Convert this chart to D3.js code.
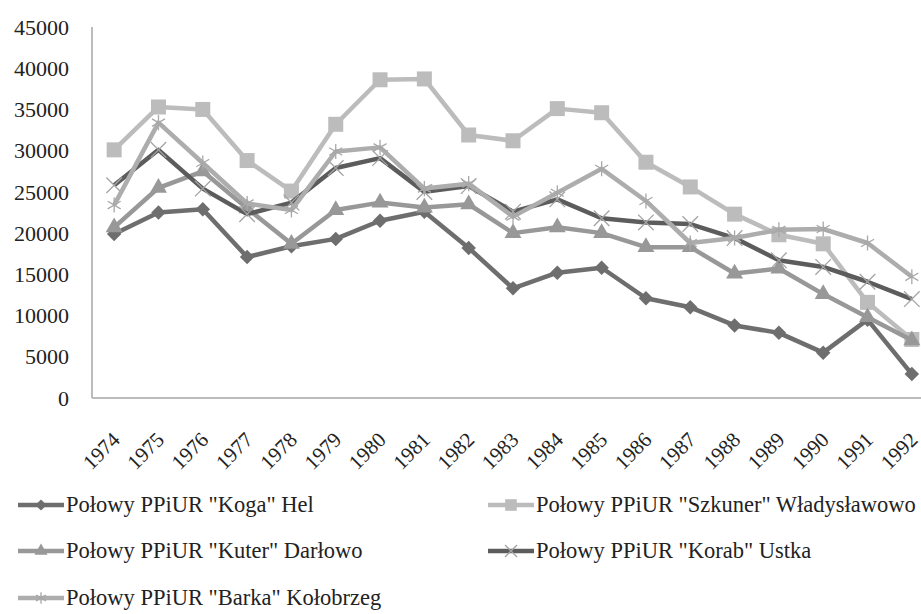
<!DOCTYPE html>
<html>
<head>
<meta charset="utf-8">
<script src="https://cdn.jsdelivr.net/npm/d3@7"></script>
<style>
  body { margin: 0; background: #fff; }
  svg { display: block; }
</style>
</head>
<body>
<div id="chart"></div>
<script>
// data (catch, yearly)
const years = ["1974","1975","1976","1977","1978","1979","1980","1981","1982","1983",
               "1984","1985","1986","1987","1988","1989","1990","1991","1992"];
const yTicks = [0, 5000, 10000, 15000, 20000, 25000, 30000, 35000, 40000, 45000];

const koga    = [19900, 22500, 22900, 17100, 18400, 19300, 21500, 22600, 18200, 13300, 15200, 15800, 12100, 11000, 8800, 7900, 5500, 9500, 2900];
const szkuner = [30100, 35300, 35000, 28800, 25100, 33200, 38600, 38700, 31900, 31200, 35100, 34600, 28600, 25600, 22300, 19800, 18700, 11600, 7100];
const kuter   = [20700, 25500, 27500, 23000, 18700, 22800, 23700, 23100, 23500, 20000, 20700, 20000, 18300, 18300, 15100, 15700, 12600, 9800, 7000];
const korab   = [25800, 30100, 25400, 22300, 23700, 27900, 29100, 25000, 25700, 22600, 24100, 21800, 21300, 21100, 19400, 16700, 15900, 14100, 12000];
const barka   = [23400, 33400, 28500, 23600, 22800, 29900, 30400, 25400, 26000, 22000, 24900, 27800, 23900, 18800, 19400, 20400, 20500, 18800, 14700];

const seriesNames = [
  'Połowy PPiUR "Koga" Hel',
  'Połowy PPiUR "Szkuner" Władysławowo',
  'Połowy PPiUR "Kuter" Darłowo',
  'Połowy PPiUR "Korab" Ustka',
  'Połowy PPiUR "Barka" Kołobrzeg'
];

const series = [
  { name: seriesNames[0], values: koga,    line: "#6e6e6e", mark: "#6e6e6e", sym: "diamond" },
  { name: seriesNames[1], values: szkuner, line: "#bcbcbc", mark: "#bcbcbc", sym: "square" },
  { name: seriesNames[2], values: kuter,   line: "#989898", mark: "#989898", sym: "triangle" },
  { name: seriesNames[3], values: korab,   line: "#5c5c5c", mark: "#a4a4a4", sym: "times" },
  { name: seriesNames[4], values: barka,   line: "#adadad", mark: "#a8a8a8", sym: "asterisk" }
];

const FONT = "'Liberation Serif', 'Times New Roman', Times, 'DejaVu Serif', serif";
const width = 921, height = 614;
const svg = d3.select("#chart").append("svg")
  .attr("width", width)
  .attr("height", height);

const x = d3.scalePoint().domain(years).range([92, 934]).padding(0.5);
const y = d3.scaleLinear().domain([0, 45000]).range([398, 27]);

// axes
svg.append("line")
  .attr("x1", x.range()[0]).attr("x2", width)
  .attr("y1", y(0)).attr("y2", y(0))
  .attr("stroke", "#a6a6a6").attr("stroke-width", 1.5);
svg.append("line")
  .attr("x1", 92).attr("x2", 92)
  .attr("y1", y(45000)).attr("y2", y(0))
  .attr("stroke", "#a6a6a6").attr("stroke-width", 1.5);

svg.selectAll(".ytick").data(yTicks).enter().append("text")
  .attr("class", "ytick")
  .attr("x", 69)
  .attr("y", d => y(d))
  .attr("dy", "0.35em")
  .attr("text-anchor", "end")
  .attr("font-family", FONT)
  .attr("font-size", 22)
  .attr("fill", "#222")
  .text(d => d);

svg.selectAll(".xtick").data(years).enter().append("text")
  .attr("class", "xtick")
  .attr("text-anchor", "end")
  .attr("transform", d => "translate(" + (x(d) + 7) + ",441) rotate(-45)")
  .attr("font-family", FONT)
  .attr("font-size", 21)
  .attr("fill", "#222")
  .text(d => d);

function symbolPath(kind, scale) {
  const s = scale || 1;
  if (kind === "diamond") return d3.symbol(d3.symbolSquare, 105 * s)();
  if (kind === "square") return d3.symbol(d3.symbolSquare, 225 * s)();
  if (kind === "triangle") return d3.symbol(d3.symbolTriangle, 125 * s)();
  if (kind === "times") return d3.symbol(d3.symbolTimes, 160 * s)();
  return d3.symbol(d3.symbolAsterisk, 160 * s)();
}
const stroked = k => k === "times" || k === "asterisk";

function drawMark(g, s, cx, cy, scale) {
  const p = g.append("path")
    .attr("d", symbolPath(s.sym, scale))
    .attr("transform", "translate(" + cx + "," + cy + ")" + (s.sym === "diamond" ? " rotate(45)" : ""));
  if (stroked(s.sym)) {
    p.attr("fill", "none").attr("stroke", s.mark).attr("stroke-width", 1.3);
  } else {
    p.attr("fill", s.mark);
  }
}

const line = d3.line()
  .x((d, i) => x(years[i]))
  .y(d => y(d));

series.forEach(s => {
  const g = svg.append("g");
  g.append("path")
    .datum(s.values)
    .attr("d", line)
    .attr("fill", "none")
    .attr("stroke", s.line)
    .attr("stroke-width", 4.5)
    .attr("stroke-linejoin", "round");
  s.values.forEach((v, i) => drawMark(g, s, x(years[i]), y(v), 1));
});

// legend
const legendPos = [[18, 505], [488, 505], [18, 551], [488, 551], [18, 598]];
series.forEach((s, i) => {
  const [lx, ly] = legendPos[i];
  const g = svg.append("g").attr("transform", "translate(" + lx + "," + ly + ")");
  g.append("line")
    .attr("x1", 0).attr("x2", 46).attr("y1", 0).attr("y2", 0)
    .attr("stroke", s.line).attr("stroke-width", 4.5);
  drawMark(g, s, 23, 0, 0.6);
  g.append("text")
    .attr("x", 48).attr("y", 0).attr("dy", "0.32em")
    .attr("font-family", FONT)
    .attr("font-size", 22.5)
    .attr("fill", "#222")
    .text(s.name);
});
</script>
</body>
</html>
